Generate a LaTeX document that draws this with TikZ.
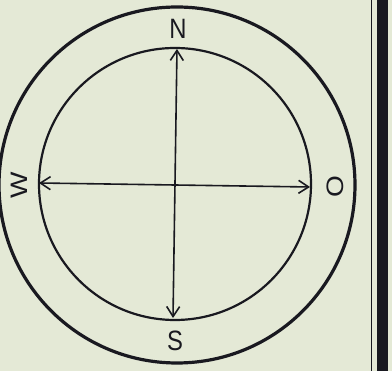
\documentclass[tikz,border=0pt]{standalone}
\usepackage{fontspec}
\setmainfont{Liberation Sans}
\usetikzlibrary{arrows.meta}
\definecolor{paper}{RGB}{228,233,214}
\definecolor{ink}{RGB}{25,25,32}
\tikzset{
  ring/.style={draw=ink,line width=#1},
  axis/.style={draw=ink,line width=1.6pt,{Straight Barb[length=10pt,width=13pt]}-{Straight Barb[length=10pt,width=13pt]}},
  pointlabel/.style={text=ink,inner sep=0pt,xscale=.85,font=\fontsize{28}{30}\selectfont}
}
\begin{document}
\begin{tikzpicture}[x=1pt,y=1pt]
\path[use as bounding box,fill=paper] (0,0) rectangle (392,371);
% rings
\draw[ring=3.2pt] (177,186) circle[radius=178];
\draw[ring=2.2pt] (175,187) circle[radius=136];
% ends of the axes on the inner ring
\coordinate (N) at (177,322);
\coordinate (S) at (173,53);
\coordinate (W) at (39,188);
\coordinate (E) at (310,184);
\draw[axis] (S) -- (N);
\draw[axis] (W) -- (E);
% points of the compass
\node[pointlabel] (lblN) at (178,342) {N};
\node[pointlabel] (lblS) at (175,30) {S};
\node[pointlabel,rotate=90] (lblW) at (19,186) {W};
\node[pointlabel,rotate=90] (lblO) at (335,184) {O};
% frame at the right edge
\draw[ink,line width=1.2pt] (371.5,0) -- (371.5,371);
\fill[ink] (377,0) rectangle (388,371);
\end{tikzpicture}
\end{document}
